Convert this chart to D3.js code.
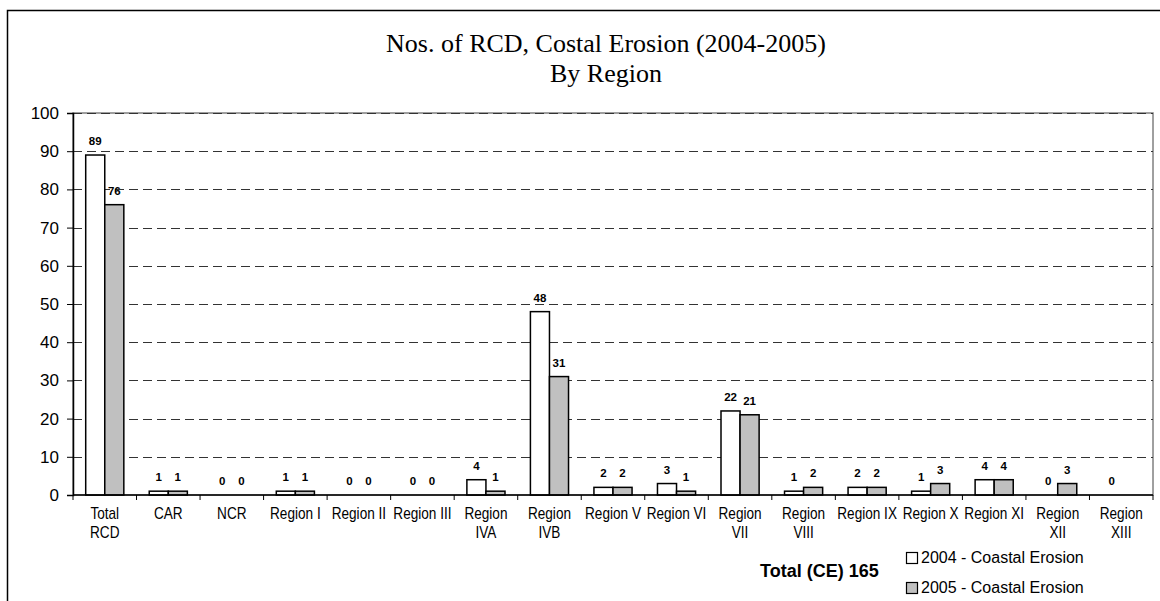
<!DOCTYPE html>
<html>
<head>
<meta charset="utf-8">
<script src="https://cdn.jsdelivr.net/npm/d3@7"></script>
<style>
  body { margin: 0; background: #fff; }
  svg { display: block; }
</style>
</head>
<body>
<svg id="chart" width="1160" height="601"></svg>
<script>
// region labels, one entry per line
var categories = [
  ["Total", "RCD"], ["CAR"], ["NCR"], ["Region I"], ["Region II"], ["Region III"],
  ["Region", "IVA"], ["Region", "IVB"], ["Region V"], ["Region VI"], ["Region", "VII"],
  ["Region", "VIII"], ["Region IX"], ["Region X"], ["Region XI"], ["Region", "XII"],
  ["Region", "XIII"]
]
var series = ["2004 - Coastal Erosion", "2005 - Coastal Erosion"]
var values2004 = [89, 1, 0, 1, 0, 0, 4, 48, 2, 3, 22, 1, 2, 1, 4, 0, 0]
var values2005 = [76, 1, 0, 1, 0, 0, 1, 31, 2, 1, 21, 2, 2, 3, 4, 3, null]
var yTicks = [0, 10, 20, 30, 40, 50, 60, 70, 80, 90, 100]
var totalLabel = "Total (CE) 165"

var fills = ["#ffffff", "#c0c0c0"]

var svg = d3.select("#chart")
// note: "top" is taken by window.top, so plot edges get their own names
var plotLeft = 73, plotRight = 1153, plotTop = 113, plotBottom = 495

// outer chart frame (runs off the page on the right and bottom)
svg.append("rect")
  .attr("x", 7.5).attr("y", 10.5)
  .attr("width", 1300).attr("height", 800)
  .attr("fill", "none").attr("stroke", "#000").attr("stroke-width", 1.5)

// title
var title = svg.append("text")
  .attr("text-anchor", "middle")
  .attr("font-family", "'Liberation Serif', 'Times New Roman', serif")
  .attr("font-size", 26)
title.append("tspan").attr("x", 606).attr("y", 52).text("Nos. of RCD, Costal Erosion (2004-2005)")
title.append("tspan").attr("x", 606).attr("y", 82).text("By Region")

var keys = categories.map(function(c) { return c.join(" ") })

var x = d3.scaleBand()
  .domain(keys)
  .range([plotLeft, plotRight])
  .paddingInner(0.4)
  .paddingOuter(0.2)

var xInner = d3.scaleBand()
  .domain([0, 1])
  .range([0, x.bandwidth()])

var y = d3.scaleLinear()
  .domain([0, 100])
  .range([plotBottom, plotTop])

// plot area border
svg.append("rect")
  .attr("x", plotLeft).attr("y", plotTop)
  .attr("width", plotRight - plotLeft).attr("height", plotBottom - plotTop)
  .attr("fill", "none").attr("stroke", "#808080").attr("stroke-width", 1.5)

// dashed gridlines
svg.selectAll(".grid")
  .data(yTicks.filter(function(d) { return d > 0 }))
  .enter().append("line")
  .attr("class", "grid")
  .attr("x1", plotLeft).attr("x2", plotRight)
  .attr("y1", function(d) { return Math.round(y(d)) + 0.5 })
  .attr("y2", function(d) { return Math.round(y(d)) + 0.5 })
  .attr("stroke", "#333")
  .attr("stroke-dasharray", "9,5")

// y axis
var yAxis = svg.append("g")
  .attr("transform", "translate(" + plotLeft + ",0)")
  .call(d3.axisLeft(y).tickValues(yTicks).tickSize(6).tickPadding(8))
yAxis.select(".domain").attr("stroke", "#000").attr("stroke-width", 1.5)
yAxis.selectAll(".tick line").attr("stroke", "#000")
yAxis.selectAll("text")
  .attr("font-family", "'Liberation Sans', Arial, sans-serif")
  .attr("font-size", 17)
  .attr("fill", "#000")

// data rows
var rows = keys.map(function(k, i) {
  return { key: k, lines: categories[i], vals: [values2004[i], values2005[i]] }
})

var groups = svg.selectAll(".group")
  .data(rows)
  .enter().append("g")
  .attr("class", "group")
  .attr("transform", function(d) { return "translate(" + x(d.key) + ",0)" })

groups.selectAll(".bar")
  .data(function(d) { return d.vals.map(function(v, j) { return { s: j, v: v } }) })
  .enter().filter(function(d) { return d.v != null && d.v > 0 })
  .append("rect")
  .attr("class", "bar")
  .attr("x", function(d) { return xInner(d.s) })
  .attr("y", function(d) { return y(d.v) })
  .attr("width", xInner.bandwidth())
  .attr("height", function(d) { return y(0) - y(d.v) })
  .attr("fill", function(d) { return fills[d.s] })
  .attr("stroke", "#000")
  .attr("stroke-width", 1.5)

groups.selectAll(".val")
  .data(function(d) { return d.vals.map(function(v, j) { return { s: j, v: v } }) })
  .enter().filter(function(d) { return d.v != null })
  .append("text")
  .attr("class", "val")
  .attr("x", function(d) { return xInner(d.s) + xInner.bandwidth() / 2 })
  .attr("y", function(d) { return y(d.v) - 10 })
  .attr("text-anchor", "middle")
  .attr("font-family", "'Liberation Sans', Arial, sans-serif")
  .attr("font-weight", "bold")
  .attr("font-size", 11.5)
  .text(function(d) { return d.v })

// x axis line and ticks between categories
svg.append("line")
  .attr("x1", plotLeft).attr("x2", plotRight)
  .attr("y1", plotBottom).attr("y2", plotBottom)
  .attr("stroke", "#000").attr("stroke-width", 1.5)

var step = x.step()
var bounds = d3.range(keys.length + 1).map(function(i) { return plotLeft + i * step })
svg.selectAll(".xtick")
  .data(bounds)
  .enter().append("line")
  .attr("class", "xtick")
  .attr("x1", function(d) { return d }).attr("x2", function(d) { return d })
  .attr("y1", plotBottom).attr("y2", plotBottom + 5)
  .attr("stroke", "#000")

// category labels (slightly condensed like the original)
groups.append("text")
  .attr("transform", "translate(" + x.bandwidth() / 2 + ",519) scale(0.85,1)")
  .attr("text-anchor", "middle")
  .attr("font-family", "'Liberation Sans', Arial, sans-serif")
  .attr("font-size", 16)
  .selectAll("tspan")
  .data(function(d) { return d.lines })
  .enter().append("tspan")
  .attr("x", 0)
  .attr("y", function(d, i) { return i * 19 })
  .text(function(d) { return d })

// total note
svg.append("text")
  .attr("x", 760).attr("y", 577)
  .attr("font-family", "'Liberation Sans', Arial, sans-serif")
  .attr("font-weight", "bold")
  .attr("font-size", 18)
  .text(totalLabel)

// legend
var legend = svg.selectAll(".legend")
  .data(series)
  .enter().append("g")
  .attr("class", "legend")
  .attr("transform", function(d, i) { return "translate(906," + (552 + i * 30) + ")" })

legend.append("rect")
  .attr("x", 0.5).attr("y", 0.5)
  .attr("width", 11).attr("height", 11)
  .attr("fill", function(d, i) { return fills[i] })
  .attr("stroke", "#000").attr("stroke-width", 1.2)

legend.append("text")
  .attr("x", 15).attr("y", 11)
  .attr("font-family", "'Liberation Sans', Arial, sans-serif")
  .attr("font-size", 16)
  .text(function(d) { return d })
</script>
</body>
</html>
